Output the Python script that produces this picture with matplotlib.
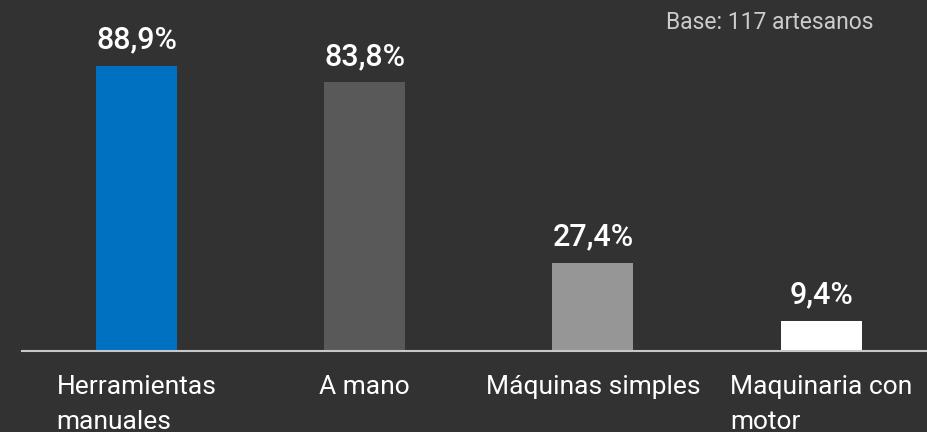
import matplotlib
matplotlib.use("Agg")
import matplotlib.pyplot as plt

# data
categories = ["Herramientas\nmanuales", "A mano", "Máquinas simples", "Maquinaria con\nmotor"]
values = [88.9, 83.8, 27.4, 9.4]
bar_colors = ["#0070C0", "#595959", "#969696", "#FFFFFF"]
note = "Base: 117 artesanos"

BG = "#323232"

plt.rcParams['font.family'] = ['Roboto', 'DejaVu Sans']

fig = plt.figure(figsize=(9.27, 4.32), dpi=100, facecolor=BG)
ax = fig.add_axes([22 / 927, 81 / 432, 905 / 927, 351 / 432])
ax.set_facecolor(BG)

pos = list(range(len(values)))
ax.bar(pos, values, width=0.355, color=bar_colors, zorder=2)

for x, v in zip(pos, values):
    ax.annotate(f"{v:.1f}".replace(".", ",") + "%", (x, v), xytext=(0, 12.5),
                textcoords="offset points", ha="center", va="baseline",
                color="white", fontsize=22, fontweight="medium")

ax.set_xlim(-0.502, 3.464)
ax.set_ylim(0, 109.5)

ax.set_xticks(pos)
ax.set_xticklabels(categories, color="white", fontsize=19, multialignment="left",
                   linespacing=1.55)
ax.tick_params(axis="x", length=0, pad=17.5)
ax.set_yticks([])

for s in ["top", "right", "left"]:
    ax.spines[s].set_visible(False)
ax.spines["bottom"].set_color("#C8C8C8")
ax.spines["bottom"].set_linewidth(1.5)

fig.text(873 / 927, 1 - 29 / 432, note, ha="right", va="baseline",
         color="#CCCCCC", fontsize=16.5)

fig.savefig("out.png", dpi=100, facecolor=BG)
